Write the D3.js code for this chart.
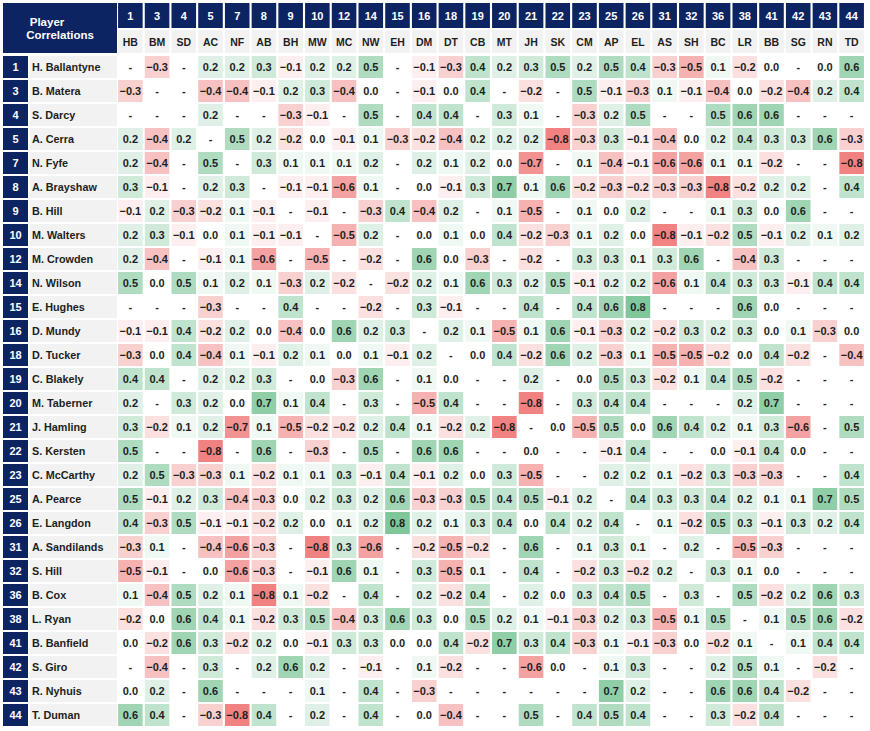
<!DOCTYPE html>
<html><head><meta charset="utf-8">
<script src="https://cdn.jsdelivr.net/npm/d3@7"></script>
<style>
body{margin:0;background:#fff;}
text{font-family:"Liberation Sans",Arial,sans-serif;font-weight:bold;}
</style>
</head><body><svg id="c" width="870" height="731"></svg>
<script>
const playerNumbers = [1,3,4,5,7,8,9,10,12,14,15,16,18,19,20,21,22,23,25,26,31,32,36,38,41,42,43,44];
const playerInitials = ["HB","BM","SD","AC","NF","AB","BH","MW","MC","NW","EH","DM","DT","CB","MT","JH","SK","CM","AP","EL","AS","SH","BC","LR","BB","SG","RN","TD"];
const playerNames = ["H. Ballantyne","B. Matera","S. Darcy","A. Cerra","N. Fyfe","A. Brayshaw","B. Hill","M. Walters","M. Crowden","N. Wilson","E. Hughes","D. Mundy","D. Tucker","C. Blakely","M. Taberner","J. Hamling","S. Kersten","C. McCarthy","A. Pearce","E. Langdon","A. Sandilands","S. Hill","B. Cox","L. Ryan","B. Banfield","S. Giro","R. Nyhuis","T. Duman"];
const N = null;
// one row per player, columns in playerNumbers order; null = "-"
const correlations = [
 [N,-0.3,N,0.2,0.2,0.3,-0.1,0.2,0.2,0.5,N,-0.1,-0.3,0.4,0.2,0.3,0.5,0.2,0.5,0.4,-0.3,-0.5,0.1,-0.2,0.0,N,0.0,0.6],
 [-0.3,N,N,-0.4,-0.4,-0.1,0.2,0.3,-0.4,0.0,N,-0.1,0.0,0.4,N,-0.2,N,0.5,-0.1,-0.3,0.1,-0.1,-0.4,0.0,-0.2,-0.4,0.2,0.4],
 [N,N,N,0.2,N,N,-0.3,-0.1,N,0.5,N,0.4,0.4,N,0.3,0.1,N,-0.3,0.2,0.5,N,N,0.5,0.6,0.6,N,N,N],
 [0.2,-0.4,0.2,N,0.5,0.2,-0.2,0.0,-0.1,0.1,-0.3,-0.2,-0.4,0.2,0.2,0.2,-0.8,-0.3,0.3,-0.1,-0.4,0.0,0.2,0.4,0.3,0.3,0.6,-0.3],
 [0.2,-0.4,N,0.5,N,0.3,0.1,0.1,0.1,0.2,N,0.2,0.1,0.2,0.0,-0.7,N,0.1,-0.4,-0.1,-0.6,-0.6,0.1,0.1,-0.2,N,N,-0.8],
 [0.3,-0.1,N,0.2,0.3,N,-0.1,-0.1,-0.6,0.1,N,0.0,-0.1,0.3,0.7,0.1,0.6,-0.2,-0.3,-0.2,-0.3,-0.3,-0.8,-0.2,0.2,0.2,N,0.4],
 [-0.1,0.2,-0.3,-0.2,0.1,-0.1,N,-0.1,N,-0.3,0.4,-0.4,0.2,N,0.1,-0.5,N,0.1,0.0,0.2,N,N,0.1,0.3,0.0,0.6,N,N],
 [0.2,0.3,-0.1,0.0,0.1,-0.1,-0.1,N,-0.5,0.2,N,0.0,0.1,0.0,0.4,-0.2,-0.3,0.1,0.2,0.0,-0.8,-0.1,-0.2,0.5,-0.1,0.2,0.1,0.2],
 [0.2,-0.4,N,-0.1,0.1,-0.6,N,-0.5,N,-0.2,N,0.6,0.0,-0.3,N,-0.2,N,0.3,0.3,0.1,0.3,0.6,N,-0.4,0.3,N,N,N],
 [0.5,0.0,0.5,0.1,0.2,0.1,-0.3,0.2,-0.2,N,-0.2,0.2,0.1,0.6,0.3,0.2,0.5,-0.1,0.2,0.2,-0.6,0.1,0.4,0.3,0.3,-0.1,0.4,0.4],
 [N,N,N,-0.3,N,N,0.4,N,N,-0.2,N,0.3,-0.1,N,N,0.4,N,0.4,0.6,0.8,N,N,N,0.6,0.0,N,N,N],
 [-0.1,-0.1,0.4,-0.2,0.2,0.0,-0.4,0.0,0.6,0.2,0.3,N,0.2,0.1,-0.5,0.1,0.6,-0.1,-0.3,0.2,-0.2,0.3,0.2,0.3,0.0,0.1,-0.3,0.0],
 [-0.3,0.0,0.4,-0.4,0.1,-0.1,0.2,0.1,0.0,0.1,-0.1,0.2,N,0.0,0.4,-0.2,0.6,0.2,-0.3,0.1,-0.5,-0.5,-0.2,0.0,0.4,-0.2,N,-0.4],
 [0.4,0.4,N,0.2,0.2,0.3,N,0.0,-0.3,0.6,N,0.1,0.0,N,N,0.2,N,0.0,0.5,0.3,-0.2,0.1,0.4,0.5,-0.2,N,N,N],
 [0.2,N,0.3,0.2,0.0,0.7,0.1,0.4,N,0.3,N,-0.5,0.4,N,N,-0.8,N,0.3,0.4,0.4,N,N,N,0.2,0.7,N,N,N],
 [0.3,-0.2,0.1,0.2,-0.7,0.1,-0.5,-0.2,-0.2,0.2,0.4,0.1,-0.2,0.2,-0.8,N,0.0,-0.5,0.5,0.0,0.6,0.4,0.2,0.1,0.3,-0.6,N,0.5],
 [0.5,N,N,-0.8,N,0.6,N,-0.3,N,0.5,N,0.6,0.6,N,N,0.0,N,N,-0.1,0.4,N,N,0.0,-0.1,0.4,0.0,N,N],
 [0.2,0.5,-0.3,-0.3,0.1,-0.2,0.1,0.1,0.3,-0.1,0.4,-0.1,0.2,0.0,0.3,-0.5,N,N,0.2,0.2,0.1,-0.2,0.3,-0.3,-0.3,N,N,0.4],
 [0.5,-0.1,0.2,0.3,-0.4,-0.3,0.0,0.2,0.3,0.2,0.6,-0.3,-0.3,0.5,0.4,0.5,-0.1,0.2,N,0.4,0.3,0.3,0.4,0.2,0.1,0.1,0.7,0.5],
 [0.4,-0.3,0.5,-0.1,-0.1,-0.2,0.2,0.0,0.1,0.2,0.8,0.2,0.1,0.3,0.4,0.0,0.4,0.2,0.4,N,0.1,-0.2,0.5,0.3,-0.1,0.3,0.2,0.4],
 [-0.3,0.1,N,-0.4,-0.6,-0.3,N,-0.8,0.3,-0.6,N,-0.2,-0.5,-0.2,N,0.6,N,0.1,0.3,0.1,N,0.2,N,-0.5,-0.3,N,N,N],
 [-0.5,-0.1,N,0.0,-0.6,-0.3,N,-0.1,0.6,0.1,N,0.3,-0.5,0.1,N,0.4,N,-0.2,0.3,-0.2,0.2,N,0.3,0.1,0.0,N,N,N],
 [0.1,-0.4,0.5,0.2,0.1,-0.8,0.1,-0.2,N,0.4,N,0.2,-0.2,0.4,N,0.2,0.0,0.3,0.4,0.5,N,0.3,N,0.5,-0.2,0.2,0.6,0.3],
 [-0.2,0.0,0.6,0.4,0.1,-0.2,0.3,0.5,-0.4,0.3,0.6,0.3,0.0,0.5,0.2,0.1,-0.1,-0.3,0.2,0.3,-0.5,0.1,0.5,N,0.1,0.5,0.6,-0.2],
 [0.0,-0.2,0.6,0.3,-0.2,0.2,0.0,-0.1,0.3,0.3,0.0,0.0,0.4,-0.2,0.7,0.3,0.4,-0.3,0.1,-0.1,-0.3,0.0,-0.2,0.1,N,0.1,0.4,0.4],
 [N,-0.4,N,0.3,N,0.2,0.6,0.2,N,-0.1,N,0.1,-0.2,N,N,-0.6,0.0,N,0.1,0.3,N,N,0.2,0.5,0.1,N,-0.2,N],
 [0.0,0.2,N,0.6,N,N,N,0.1,N,0.4,N,-0.3,N,N,N,N,N,N,0.7,0.2,N,N,0.6,0.6,0.4,-0.2,N,N],
 [0.6,0.4,N,-0.3,-0.8,0.4,N,0.2,N,0.4,N,0.0,-0.4,N,N,0.5,N,0.4,0.5,0.4,N,N,0.3,-0.2,0.4,N,N,N]
];
const titleLines = ["Player","Correlations"];

const NAVY = "#0c2461", GREY = "#f2f2f2", INK = "#1e1e1e";
const svg = d3.select("#c");
const x = d3.scaleBand().domain(playerNumbers).range([117, 865]).paddingInner(0.08).paddingOuter(0.04);
const y = d3.scaleBand().domain(playerNumbers).range([55, 727]).paddingInner(0.083).paddingOuter(0.042);
const color = d3.scaleLinear().domain([-0.8, 0, 0.8]).range(["#f08282", "#ffffff", "#7fc79a"]).clamp(true);
const fmt = d3.format(".1f");

// title box
svg.append("rect").attr("x", 3).attr("y", 3).attr("width", 114).attr("height", 50).attr("fill", NAVY);
svg.append("text").attr("x", 47).attr("y", 26).attr("text-anchor", "middle").attr("fill", "#fff").attr("font-size", 11.5).text(titleLines[0]);
svg.append("text").attr("x", 60).attr("y", 39).attr("text-anchor", "middle").attr("fill", "#fff").attr("font-size", 11.5).text(titleLines[1]);

// column headers
const colG = svg.append("g").selectAll("g").data(playerNumbers).join("g");
colG.append("rect").attr("x", d => x(d)).attr("y", 3).attr("width", x.bandwidth()).attr("height", 25).attr("fill", NAVY);
colG.append("text").attr("x", d => x(d) + x.bandwidth() / 2).attr("y", 19.5).attr("text-anchor", "middle")
  .attr("fill", "#fff").attr("font-size", 11).text(d => d);
colG.append("rect").attr("x", d => x(d)).attr("y", 30).attr("width", x.bandwidth()).attr("height", 23).attr("fill", GREY);
colG.append("text").attr("x", d => x(d) + x.bandwidth() / 2).attr("y", 45.5).attr("text-anchor", "middle")
  .attr("fill", INK).attr("font-size", 10.5).text((d, i) => playerInitials[i]);

// row headers
const rowG = svg.append("g").selectAll("g").data(playerNumbers).join("g");
rowG.append("rect").attr("x", 3).attr("y", d => y(d)).attr("width", 25).attr("height", y.bandwidth()).attr("fill", NAVY);
rowG.append("text").attr("x", 15.5).attr("y", d => y(d) + y.bandwidth() / 2 + 4).attr("text-anchor", "middle")
  .attr("fill", "#fff").attr("font-size", 11).text(d => d);
rowG.append("rect").attr("x", 30).attr("y", d => y(d)).attr("width", 87).attr("height", y.bandwidth()).attr("fill", GREY);
rowG.append("text").attr("x", 32).attr("y", d => y(d) + y.bandwidth() / 2 + 4)
  .attr("fill", INK).attr("font-size", 10.8).text((d, i) => playerNames[i]);

// cells
const cells = [];
correlations.forEach((row, ri) => row.forEach((v, ci) => cells.push({r: playerNumbers[ri], c: playerNumbers[ci], v})));
const cg = svg.append("g").selectAll("g").data(cells).join("g");
cg.filter(d => d.v !== null).append("rect")
  .attr("x", d => x(d.c)).attr("y", d => y(d.r)).attr("width", x.bandwidth()).attr("height", y.bandwidth())
  .attr("fill", d => color(d.v));
cg.append("text").attr("x", d => x(d.c) + x.bandwidth() / 2).attr("y", d => y(d.r) + y.bandwidth() / 2 + 4)
  .attr("text-anchor", "middle").attr("fill", INK).attr("font-size", 11)
  .text(d => d.v === null ? "-" : fmt(d.v));
</script></body></html>
